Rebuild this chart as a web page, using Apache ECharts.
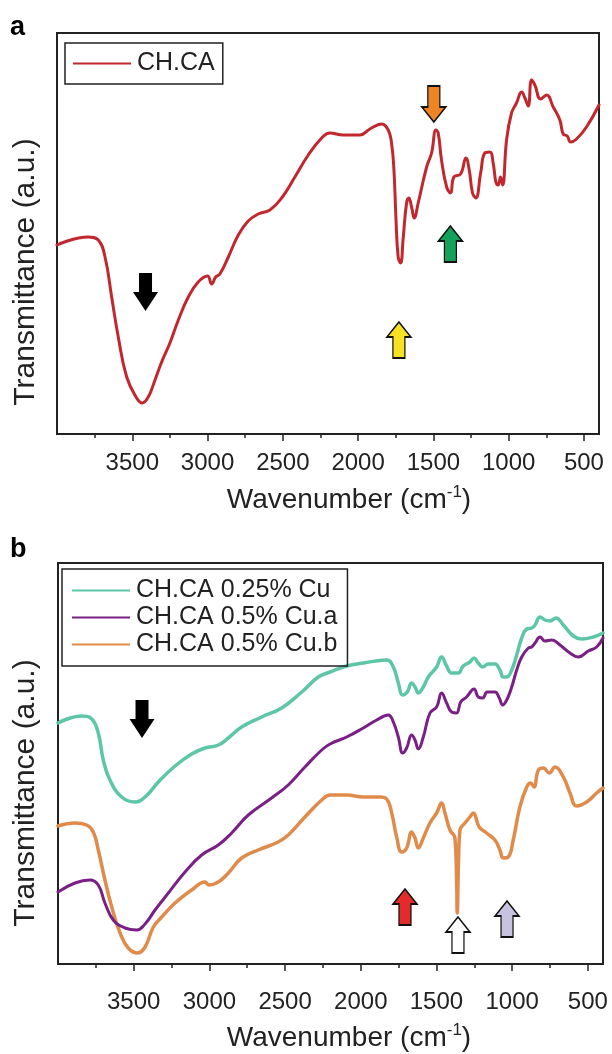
<!DOCTYPE html>
<html>
<head>
<meta charset="utf-8">
<script src="https://cdn.jsdelivr.net/npm/echarts@6/dist/echarts.min.js"></script>
<style>
    html, body { margin: 0; padding: 0; background: #fff; }
    #chart { width: 612px; height: 1054px; }
</style>
</head>
<body>
<div id="chart"></div>
<script>
    // panel a : CH.CA
    const wnA = [4000, 3792, 3726, 3681, 3637, 3593, 3537, 3471, 3434, 3394, 3349, 3305, 3250, 3194, 3128, 3062, 3000, 2973, 2946, 2918,
        2862, 2796, 2730, 2663, 2586, 2508, 2420, 2331, 2242, 2187, 2099, 1988, 1922, 1844, 1800, 1778, 1762, 1749, 1734, 1718,
        1700, 1678, 1663, 1645, 1627, 1601, 1545, 1512, 1483, 1468, 1446, 1412, 1386, 1364, 1319, 1284, 1262, 1240, 1218, 1186,
        1158, 1125, 1103, 1085, 1070, 1054, 1040, 1014, 981, 948, 914, 892, 870, 848, 826, 788, 748, 704, 660, 638,
        611, 589, 549, 483, 400];
    const tA = [189, 197, 194, 177, 137, 97, 57, 36, 31, 37, 54, 72, 91, 114, 137, 152, 158, 150, 157, 160,
        177, 199, 213, 220, 224, 236, 257, 279, 296, 301, 299, 299, 305, 310, 304, 291, 264, 217, 177, 171,
        197, 231, 236, 227, 216, 231, 267, 281, 304, 301, 274, 247, 241, 257, 260, 276, 264, 241, 236, 261,
        281, 282, 271, 252, 249, 257, 249, 294, 321, 331, 342, 336, 328, 354, 349, 335, 339, 327, 314, 300,
        298, 292, 295, 307, 329];

    // panel b : CH.CA 0.25% Cu
    const wnG = [4000, 3843, 3777, 3734, 3701, 3657, 3579, 3491, 3425, 3337, 3227, 3117, 3029, 2941, 2875, 2787, 2655, 2523, 2390, 2281,
        2203, 2093, 1983, 1829, 1785, 1752, 1723, 1693, 1664, 1642, 1620, 1587, 1554, 1499, 1466, 1433, 1400, 1356, 1323, 1279,
        1252, 1224, 1195, 1158, 1114, 1081, 1059, 1036, 1003, 970, 937, 904, 871, 849, 816, 783, 750, 711, 662, 596,
        541, 464, 400];
    const tG = [241, 248, 245, 231, 204, 184, 167, 162, 167, 182, 198, 210, 216, 219, 226, 237, 247, 256, 272, 287,
        292, 298, 301, 304, 297, 281, 269, 272, 281, 277, 271, 277, 287, 297, 307, 298, 291, 291, 298, 302,
        306, 301, 297, 300, 300, 294, 287, 287, 294, 309, 326, 335, 336, 339, 347, 344, 343, 346, 339, 328,
        325, 327, 331];

    // panel b : CH.CA 0.5% Cu.a
    const wnP = [4000, 3888, 3789, 3734, 3690, 3635, 3557, 3480, 3425, 3359, 3271, 3161, 3051, 2941, 2853, 2743, 2589, 2479, 2369, 2258,
        2203, 2093, 1983, 1895, 1818, 1785, 1752, 1723, 1697, 1664, 1642, 1620, 1587, 1543, 1499, 1466, 1433, 1400, 1367, 1340,
        1301, 1252, 1224, 1195, 1164, 1114, 1085, 1063, 1036, 1003, 970, 937, 893, 871, 849, 816, 783, 739, 684, 618,
        563, 497, 442, 400];
    const tP = [72, 81, 84, 79, 61, 44, 36, 34, 40, 54, 71, 92, 109, 119, 131, 149, 166, 179, 197, 214,
        220, 227, 236, 244, 249, 242, 227, 211, 216, 229, 224, 215, 227, 251, 257, 271, 261, 252, 251, 262,
        267, 275, 267, 266, 272, 272, 266, 259, 264, 277, 294, 307, 316, 317, 321, 327, 323, 324, 319, 311,
        307, 313, 317, 326];

    // panel b : CH.CA 0.5% Cu.b
    const wnO = [4000, 3888, 3811, 3767, 3734, 3690, 3645, 3590, 3536, 3474, 3425, 3370, 3315, 3227, 3117, 3029, 3003, 2941, 2875, 2787,
        2677, 2545, 2479, 2369, 2258, 2203, 2093, 1983, 1873, 1829, 1796, 1763, 1730, 1697, 1664, 1642, 1620, 1587, 1543, 1499,
        1466, 1444, 1411, 1378, 1367, 1363, 1354, 1345, 1312, 1279, 1257, 1218, 1169, 1114, 1081, 1059, 1026, 993, 949, 904,
        878, 856, 827, 794, 755, 717, 662, 618, 574, 508, 442, 400];
    const tO = [138, 141, 139, 132, 114, 84, 57, 31, 16, 11, 17, 37, 47, 61, 74, 82, 79, 82, 91, 106,
        114, 122, 129, 147, 164, 169, 169, 167, 167, 165, 151, 127, 112, 116, 132, 126, 116, 126, 141, 151,
        161, 151, 134, 126, 84, 51, 104, 134, 141, 147, 151, 137, 131, 124, 114, 106, 107, 124, 157, 177,
        181, 177, 194, 196, 191, 197, 187, 171, 158, 162, 171, 176];

    const majorTicks = [500, 1000, 1500, 2000, 2500, 3000, 3500];
    const minorTicks = [750, 1250, 1750, 2250, 2750, 3250, 3750];

    // arrows: [wavenumber, height, direction, fill]
    const arrowsA = [[3412, 142, 'down', '#000'], [1497, 330, 'down', '#ef8424'], [1387, 190, 'up', '#13a15b'], [1729, 94, 'up', '#f6e223']];
    const arrowsB = [[3445, 245, 'down', '#000'], [1708, 57, 'up', '#e32b2b'], [1358, 29, 'up', '#ffffff'], [1034, 45, 'up', '#c6c2df']];

    const FONT = 'Liberation Sans, Arial, sans-serif';
    const TXT = '#222';
    const upPath = 'path://M12,0 L24,15 L18,15 L18,36 L6,36 L6,15 L0,15 Z';
    const blackPath = 'path://M12.5,0 L25,19 L19,19 L19,38 L6,38 L6,19 L0,19 Z';

    function pairs(xs, ys) {
        return xs.map((x, i) => [x, ys[i]]);
    }

    function arrowMarks(list) {
        return list.map(a => ({
            coord: [a[0], a[1]],
            symbol: a[3] === '#000' ? blackPath : upPath,
            symbolSize: a[3] === '#000' ? [25, 38] : [24, 36],
            symbolRotate: a[2] === 'down' ? 180 : 0,
            itemStyle: { color: a[3], borderColor: '#111', borderWidth: a[3] === '#000' ? 0 : 1.5 },
            label: { show: false }
        }));
    }

    function xAxes(gridIndex, margin) {
        return [{
            gridIndex: gridIndex,
            type: 'value',
            position: 'bottom',
            min: 400,
            max: 4000,
            inverse: true,
            axisLine: { show: true, lineStyle: { color: '#222', width: 2 } },
            axisTick: { show: true, customValues: majorTicks, length: 7, lineStyle: { color: '#222', width: 1.5 } },
            axisLabel: {
                show: true, customValues: majorTicks, margin: margin, fontSize: 24, fontFamily: FONT, color: TXT,
                formatter: v => String(v)
            },
            splitLine: { show: false }
        }, {
            gridIndex: gridIndex,
            type: 'value',
            position: 'bottom',
            min: 400,
            max: 4000,
            inverse: true,
            axisLine: { show: false },
            axisTick: { show: true, customValues: minorTicks, length: 4, lineStyle: { color: '#222', width: 1.5 } },
            axisLabel: { show: false },
            splitLine: { show: false }
        }];
    }

    function yAxis(gridIndex) {
        return {
            gridIndex: gridIndex,
            type: 'value',
            min: 0,
            max: 401,
            axisLine: { show: false },
            axisTick: { show: false },
            axisLabel: { show: false },
            splitLine: { show: false }
        };
    }

    function line(name, data, color, width, xi, yi, marks) {
        const s = {
            name: name,
            type: 'line',
            xAxisIndex: xi,
            yAxisIndex: yi,
            data: data,
            showSymbol: false,
            smooth: 0.45,
            color: color,
            lineStyle: { color: color, width: width, join: 'round', cap: 'round' },
            z: 3
        };
        if (marks) {
            s.markPoint = { data: marks, z: 5 };
        }
        return s;
    }

    function legendBox(left, top, names, pad) {
        return {
            left: left,
            top: top,
            orient: 'vertical',
            data: names,
            icon: 'rect',
            itemWidth: 58,
            itemHeight: 2,
            itemGap: 2,
            padding: pad,
            borderColor: '#222',
            borderWidth: 1.5,
            textStyle: { fontSize: 25, fontFamily: FONT, color: TXT, padding: [0, 0, 0, 1] }
        };
    }

    const xTitle = '{t|Wavenumber (cm}{s|-1}{t|)}';
    const titleRich = {
        t: { fontSize: 28, fontFamily: FONT, color: TXT, lineHeight: 32 },
        s: { fontSize: 17, fontFamily: FONT, color: TXT, verticalAlign: 'top', lineHeight: 18 }
    };

    const option = {
        animation: false,
        backgroundColor: '#fff',
        grid: [
            { left: 57, top: 33, width: 542, height: 401, show: true, borderColor: '#222', borderWidth: 2, backgroundColor: 'transparent' },
            { left: 58, top: 563, width: 545, height: 401, show: true, borderColor: '#222', borderWidth: 2, backgroundColor: 'transparent' }
        ],
        xAxis: xAxes(0, 17).concat(xAxes(1, 26)),
        yAxis: [yAxis(0), yAxis(1)],
        legend: [
            legendBox(65, 43, ['CH.CA'], [8, 8, 8, 8]),
            legendBox(62, 569, ['CH.CA 0.25% Cu', 'CH.CA 0.5% Cu.a', 'CH.CA 0.5% Cu.b'], [9, 10, 9, 10])
        ],
        series: [
            line('CH.CA', pairs(wnA, tA), '#c1272d', 3, 0, 0, arrowMarks(arrowsA)),
            line('CH.CA 0.5% Cu.b', pairs(wnO, tO), '#e08b4a', 3.5, 2, 1, arrowMarks(arrowsB)),
            line('CH.CA 0.5% Cu.a', pairs(wnP, tP), '#7a1f85', 3, 2, 1),
            line('CH.CA 0.25% Cu', pairs(wnG, tG), '#5cc6a7', 3.5, 2, 1)
        ],
        graphic: [
            { type: 'text', left: 10, top: 14, style: { text: 'a', fontSize: 27, fontWeight: 'bold', fontFamily: FONT, fill: '#000' } },
            { type: 'text', left: 10, top: 536, style: { text: 'b', fontSize: 27, fontWeight: 'bold', fontFamily: FONT, fill: '#000' } },
            { type: 'text', x: 26, y: 272, rotation: Math.PI / 2,
              style: { text: 'Transmittance (a.u.)', fontSize: 30, fontFamily: FONT, fill: TXT, align: 'center', verticalAlign: 'middle' } },
            { type: 'text', x: 26, y: 793, rotation: Math.PI / 2,
              style: { text: 'Transmittance (a.u.)', fontSize: 30, fontFamily: FONT, fill: TXT, align: 'center', verticalAlign: 'middle' } },
            { type: 'text', x: 349, y: 500,
              style: { text: xTitle, rich: titleRich, fill: TXT, align: 'center', verticalAlign: 'middle' } },
            { type: 'text', x: 349, y: 1038,
              style: { text: xTitle, rich: titleRich, fill: TXT, align: 'center', verticalAlign: 'middle' } }
        ]
    };

    const myChart = echarts.init(document.getElementById('chart'), null, { renderer: 'canvas' });
    myChart.setOption(option);
</script>
</body>
</html>
